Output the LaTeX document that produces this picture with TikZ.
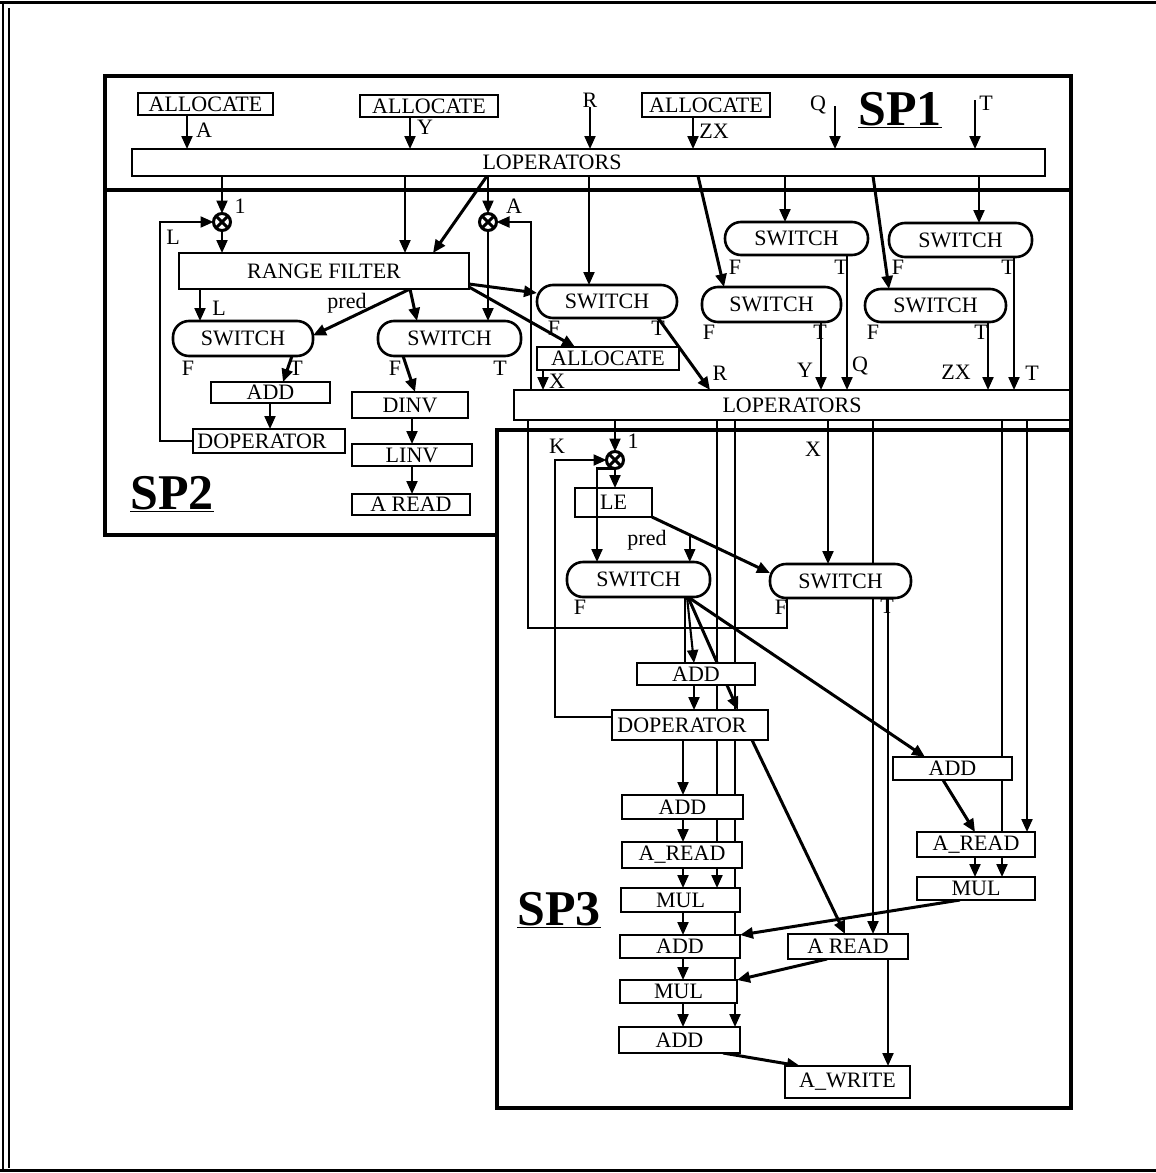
\documentclass[tikz,border=0pt]{standalone}
\usepackage{fontspec}
\setmainfont{Liberation Serif}
\usetikzlibrary{arrows.meta,calc}
\pgfdeclarelayer{background}
\pgfsetlayers{background,main}
\begin{document}
\begin{tikzpicture}[x=1pt,y=-1pt,
  every node/.style={font=\fontsize{22pt}{24pt}\selectfont, inner sep=0pt, outer sep=0pt},
  box/.style={draw, line width=2.6pt, fill=white, rectangle},
  sw/.style={draw, line width=2.6pt, fill=white, rounded corners=16pt, rectangle},
  big/.style={font=\bfseries\fontsize{50pt}{52pt}\selectfont},
  conn/.style={line width=2.1pt},
  arr/.style={line width=2.1pt, -{Triangle[length=13pt,width=11pt]}},
  darr/.style={line width=3pt, -{Triangle[length=13pt,width=11pt]}},
  frame/.style={line width=4.5pt},
  merge/.style={circle, draw, line width=3pt, fill=white, minimum size=17pt,
    path picture={\draw[line width=3pt] (path picture bounding box.north west) -- (path picture bounding box.south east)
      (path picture bounding box.north east) -- (path picture bounding box.south west);}},
]
\useasboundingbox (0,0) rectangle (1156,1173);

% ---------- SP1 ----------
\node[box, minimum width=135pt, minimum height=22pt] (al1) at (205.5,104) {ALLOCATE};
\node[box, minimum width=138pt, minimum height=22pt] (al2) at (429,106) {ALLOCATE};
\node[box, minimum width=128pt, minimum height=24pt] (al3) at (706,105) {ALLOCATE};
\node[box, minimum width=913pt, minimum height=27pt] (lop1) at (588.5,162.5) {\hspace*{-73pt}LOPERATORS};
\node (lR) at (590,100) {R};
\node (lQ) at (818,105) {Q};
\node (lT) at (986,103) {T};
\coordinate (qin) at (835,106);
\coordinate (tin) at (975,100);
\node (lA) at (204,130) {A};
\node (lY) at (425,127) {Y};
\node (lZX) at (714,131) {ZX};
\node[big] (sp1) at (900,110) {\underline{SP1}};

% ---------- SP2 ----------
\node[merge] (m1) at (222,222) {};
\node (l1a) at (240,206) {1};
\node (lL1) at (173,237) {L};
\node[box, minimum width=290pt, minimum height=36pt] (rf) at (324,271) {RANGE FILTER};
\node[sw, minimum width=140pt, minimum height=35pt] (sw1) at (243,338.5) {SWITCH};
\node[sw, minimum width=143pt, minimum height=35pt] (sw2) at (449.5,338.5) {SWITCH};
\node[box, minimum width=119pt, minimum height=21pt] (add1) at (270.5,392.5) {ADD};
\node[box, minimum width=152pt, minimum height=24pt] (dop1) at (269,441) {\hspace*{-14pt}DOPERATOR};
\node[box, minimum width=116pt, minimum height=26pt] (dinv) at (410,405) {DINV};
\node[box, minimum width=120pt, minimum height=22pt] (linv) at (412,455) {LINV};
\node[box, minimum width=118pt, minimum height=21pt] (ard1) at (411,504.5) {A READ};
\node[merge] (mA) at (488,222) {};
\node (lAm) at (514,206) {A};
\node[sw, minimum width=140pt, minimum height=33pt] (sw3) at (607,301.5) {SWITCH};
\node[box, minimum width=142pt, minimum height=23pt] (al4) at (608,358.5) {ALLOCATE};
\node[sw, minimum width=143pt, minimum height=33pt] (sw4) at (796.5,238.5) {SWITCH};
\node[sw, minimum width=139pt, minimum height=35pt] (sw5) at (771.5,304.5) {SWITCH};
\node[sw, minimum width=143pt, minimum height=34pt] (sw6) at (960.5,240) {SWITCH};
\node[sw, minimum width=141pt, minimum height=33pt] (sw7) at (935.5,305.5) {SWITCH};
\node[box, minimum width=556pt, minimum height=30pt] (lop2) at (792,405) {LOPERATORS};
\node[big] (sp2) at (172,494) {\underline{SP2}};
\node (lL2) at (219,308) {L};
\node (lpred1) at (347,303) {pred};
\node (f1) at (188,368) {F}; \node (t1) at (296,368) {T};
\node (f2) at (395,368) {F}; \node (t2) at (500,368) {T};
\node (f3) at (554,328) {F}; \node (t3) at (658,328) {T};
\node (f4) at (735,267) {F}; \node (t4) at (841,267) {T};
\node (f5) at (709,332) {F}; \node (t5) at (820,332) {T};
\node (f6) at (898,267) {F}; \node (t6) at (1008,267) {T};
\node (f7) at (873,332) {F}; \node (t7) at (981,332) {T};
\node (lR2) at (720,373) {R};
\node (lX2) at (557,381) {X};
\node (lY2) at (805,370) {Y};
\node (lQ2) at (860,366) {Q};
\node (lZX2) at (956,372) {ZX};
\node (lT2) at (1032,373) {T};

% ---------- SP3 ----------
\node[merge] (m3) at (615,460) {};
\node (l1b) at (633,441) {1};
\node (lK) at (557,446) {K};
\node[box, minimum width=77pt, minimum height=29pt] (le) at (613.5,502.5) {LE};
\node (lpred2) at (647,540) {pred};
\node[sw, minimum width=143pt, minimum height=35pt] (sw8) at (638.5,579.5) {SWITCH};
\node[sw, minimum width=141pt, minimum height=34pt] (sw9) at (840.5,581) {SWITCH};
\node (lX3) at (813,449) {X};
\node (f8) at (580,607) {F};
\node (f9) at (781,607) {F}; \node (t9) at (887,606) {T};
\node[box, minimum width=118pt, minimum height=22pt] (add2) at (696,674) {ADD};
\node[box, minimum width=156pt, minimum height=30pt] (dop2) at (690,725) {\hspace*{-16pt}DOPERATOR};
\node[box, minimum width=121pt, minimum height=24pt] (add3) at (682.5,807) {ADD};
\node[box, minimum width=120pt, minimum height=26pt] (ard2) at (682,855) {A\_READ};
\node[box, minimum width=119pt, minimum height=24pt] (mul1) at (680.5,900) {MUL};
\node[box, minimum width=120pt, minimum height=23pt] (add4) at (680,946.5) {ADD};
\node[box, minimum width=117pt, minimum height=23pt] (mul2) at (678.5,991.5) {MUL};
\node[box, minimum width=121pt, minimum height=26pt] (add5) at (679.5,1040) {ADD};
\node[box, minimum width=120pt, minimum height=25pt] (ard3) at (848,946.5) {A READ};
\node[box, minimum width=125pt, minimum height=32pt] (awr) at (847.5,1082) {A\_WRITE};
\node[box, minimum width=119pt, minimum height=23pt] (add6) at (952.5,768.5) {ADD};
\node[box, minimum width=118pt, minimum height=25pt] (ard4) at (976,844.5) {A\_READ};
\node[box, minimum width=118pt, minimum height=23pt] (mul3) at (976,888.5) {MUL};
\node[big] (sp3) at (559,910) {\underline{SP3}};

% line through LE (visible in reference)
\draw[arr] (m3.south) -- (597,0 |- m3.south) -- (597,0 |- sw8.north);

\begin{pgfonlayer}{background}
% frames
\draw[line width=3pt] (0,2.5) -- (1156,2.5);
\draw[line width=2pt] (3,2) -- (3,1171);
\draw[line width=1.5pt] (9,8) -- (9,1168);
\draw[line width=3pt] (0,1170) -- (1156,1170);
\draw[frame] (105,76) rectangle (1071,190);
\draw[frame] (105,190) -- (105,535) -- (497,535);
\draw[frame] (1071,190) -- (1071,430);
\draw[frame] (497,430) rectangle (1071,1108);

% SP1 connectors
\draw[arr] (al1.south -| 187,0) -- (187,0 |- lop1.north);
\draw[arr] (al2.south -| 410,0) -- (410,0 |- lop1.north);
\draw[arr] (lR.south) -- (lR.south |- lop1.north);
\draw[arr] (al3.south -| 693,0) -- (693,0 |- lop1.north);
\draw[arr] (qin) -- (qin |- lop1.north);
\draw[arr] (tin) -- (tin |- lop1.north);

% SP2 connectors
\draw[arr] (222,0 |- lop1.south) -- (m1.north);
\draw[arr] (dop1.west) -- (160,0 |- dop1.west) -- (160,222) -- (m1.west);
\draw[arr] (m1.south) -- (m1.south |- rf.north);
\draw[arr] (405,0 |- lop1.south) -- (405,0 |- rf.north);
\draw[darr] (487,0 |- lop1.south) -- (433,0 |- rf.north);
\draw[arr] (488,0 |- lop1.south) -- (mA.north);
\draw[arr] (531,0 |- lop2.north) -- (531,222) -- (mA.east);
\draw[arr] (mA.south) -- (mA.south |- sw2.north);
\draw[arr] (200,0 |- rf.south) -- (200,0 |- sw1.north);
\draw[darr] (410,0 |- rf.south) -- ([yshift=3pt]sw1.east);
\draw[darr] (410,0 |- rf.south) -- (417,0 |- sw2.north);
\draw[darr] (292,0 |- sw1.south) -- (283,0 |- add1.north);
\draw[arr] (270,0 |- add1.south) -- (270,0 |- dop1.north);
\draw[darr] (403,0 |- sw2.south) -- (415,0 |- dinv.north);
\draw[arr] (412,0 |- dinv.south) -- (412,0 |- linv.north);
\draw[arr] (412,0 |- linv.south) -- (412,0 |- ard1.north);
\draw[darr] (rf.east |- 0,284) -- (sw3.west |- 0,293);
\draw[darr] (rf.east |- 0,287) -- (575,0 |- al4.north);
\draw[arr] (589,0 |- lop1.south) -- (589,0 |- sw3.north);
\draw[darr] (658,0 |- sw3.south) -- (710,0 |- lop2.north);
\draw[arr] (543,0 |- al4.south) -- (543,0 |- lop2.north);
\draw[arr] (785,0 |- lop1.south) -- (785,0 |- sw4.north);
\draw[darr] (698,0 |- lop1.south) -- (724,0 |- sw5.north);
\draw[arr] (979,0 |- lop1.south) -- (979,0 |- sw6.north);
\draw[darr] (873,0 |- lop1.south) -- (889,0 |- sw7.north);
\draw[arr] (847,0 |- sw4.south) -- (847,0 |- lop2.north);
\draw[arr] (821,0 |- sw5.south) -- (821,0 |- lop2.north);
\draw[arr] (1014,0 |- sw6.south) -- (1014,0 |- lop2.north);
\draw[arr] (988,0 |- sw7.south) -- (988,0 |- lop2.north);

% SP3 connectors
\draw[arr] (615,0 |- lop2.south) -- (m3.north);
\draw[arr] (dop2.west |- 0,717) -- (555,717) -- (555,0 |- m3.west) -- (m3.west);
\draw[arr] (m3.south) -- (m3.south |- le.north);
\draw[darr] (le.south east) -- ([yshift=8pt]sw9.west);
\coordinate (pb) at ($(le.south east)!0.32!([yshift=8pt]sw9.west)$);
\draw[arr] (pb) -- (pb |- sw8.north);
\draw[arr] (828,0 |- lop2.south) -- (828,0 |- sw9.north);
\draw[conn] (787,0 |- sw9.south) -- (787,628) -- (528,628) -- (528,0 |- lop2.south);
\draw[arr] (717,0 |- lop2.south) -- (717,0 |- mul1.north);
\draw[arr] (735,0 |- lop2.south) -- (735,0 |- add5.north);
\draw[arr] (873,0 |- lop2.south) -- (873,0 |- ard3.north);
\draw[arr] (888,0 |- sw9.south) -- (888,0 |- awr.north);
\draw[arr] (1002,0 |- lop2.south) -- (1002,0 |- mul3.north);
\draw[arr] (1027,0 |- lop2.south) -- (1027,0 |- ard4.north);
\draw[conn] (685,0 |- sw8.south) -- (685,0 |- add2.north);
\draw[arr] (687,0 |- sw8.south) -- (694,0 |- add2.north);
\draw[darr] (688,0 |- sw8.south) -- (738,0 |- dop2.north);
\draw[darr] (688,0 |- sw8.south) -- (925,0 |- add6.north);
\draw[arr] (694,0 |- add2.south) -- (694,0 |- dop2.north);
\draw[darr] (752,0 |- dop2.south) -- (845,0 |- ard3.north);
\draw[arr] (683,0 |- dop2.south) -- (683,0 |- add3.north);
\draw[arr] (683,0 |- add3.south) -- (683,0 |- ard2.north);
\draw[arr] (683,0 |- ard2.south) -- (683,0 |- mul1.north);
\draw[arr] (683,0 |- mul1.south) -- (683,0 |- add4.north);
\draw[arr] (683,0 |- add4.south) -- (683,0 |- mul2.north);
\draw[arr] (683,0 |- mul2.south) -- (683,0 |- add5.north);
\draw[darr] (960,0 |- mul3.south) -- (add4.north east);
\draw[darr] (827,0 |- ard3.south) -- (mul2.north east);
\draw[darr] (723,0 |- add5.south) -- (800,0 |- awr.north);
\draw[darr] (943,0 |- add6.south) -- (975,0 |- ard4.north);
\draw[arr] (975,0 |- ard4.south) -- (975,0 |- mul3.north);
\end{pgfonlayer}
\end{tikzpicture}
\end{document}
